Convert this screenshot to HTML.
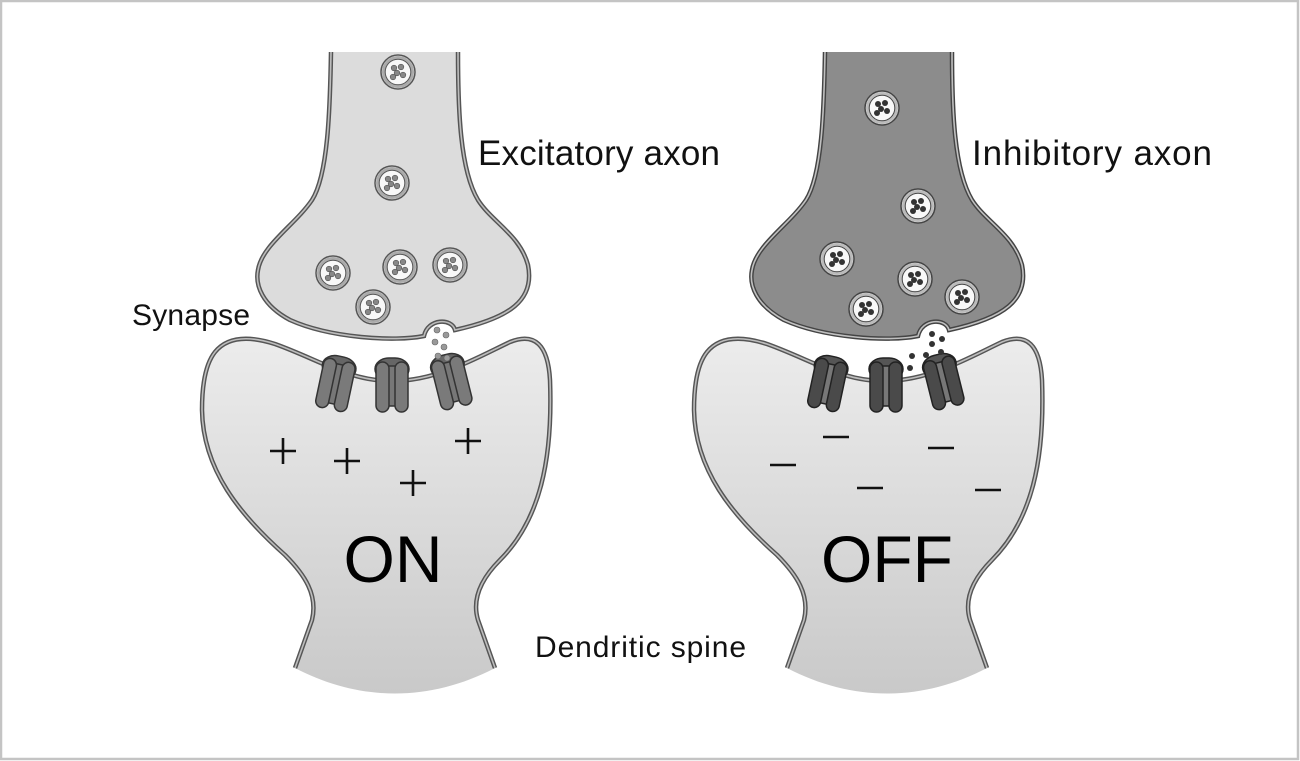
<!DOCTYPE html>
<html><head><meta charset="utf-8"><style>
html,body{margin:0;padding:0;background:#fff}
svg{display:block}
text{font-family:"Liberation Sans",sans-serif}
</style></head><body>
<svg width="1300" height="761" viewBox="0 0 1300 761" xmlns="http://www.w3.org/2000/svg">
<defs>
<linearGradient id="sp" x1="0" y1="0" x2="0" y2="1">
<stop offset="0" stop-color="#ececec"/><stop offset="1" stop-color="#c9c9c9"/>
</linearGradient>
<g id="rcp">
<rect x="-17" y="-26" width="34" height="22" rx="14" fill="#666" stroke="#333" stroke-width="1.5"/>
<rect x="-4" y="-18" width="8" height="40" fill="#777" stroke="#333" stroke-width="1.5"/>
<rect x="-16" y="-22" width="13" height="50" rx="6.5" fill="#7a7a7a" stroke="#333" stroke-width="1.5"/>
<rect x="3" y="-22" width="13" height="50" rx="6.5" fill="#7a7a7a" stroke="#333" stroke-width="1.5"/>
</g>
<g id="rcpd">
<rect x="-17" y="-26" width="34" height="22" rx="14" fill="#555" stroke="#222" stroke-width="1.5"/>
<rect x="-4" y="-18" width="8" height="40" fill="#777" stroke="#222" stroke-width="1.5"/>
<rect x="-16" y="-22" width="13" height="50" rx="6.5" fill="#4a4a4a" stroke="#222" stroke-width="1.5"/>
<rect x="3" y="-22" width="13" height="50" rx="6.5" fill="#4a4a4a" stroke="#222" stroke-width="1.5"/>
</g>
<g id="ves">
<circle r="17" fill="#f8f8f8" stroke="#555" stroke-width="1.5"/>
<circle r="14.5" fill="none" stroke="#aaa" stroke-width="3"/>
<circle r="12.8" fill="none" stroke="#555" stroke-width="1"/>
<circle cx="-4" cy="-4" r="2.8" fill="#888" stroke="#555" stroke-width=".6"/>
<circle cx="3" cy="-5" r="2.8" fill="#888" stroke="#555" stroke-width=".6"/>
<circle cx="-1" cy="1" r="2.8" fill="#888" stroke="#555" stroke-width=".6"/>
<circle cx="5" cy="3" r="2.8" fill="#888" stroke="#555" stroke-width=".6"/>
<circle cx="-5" cy="5" r="2.8" fill="#888" stroke="#555" stroke-width=".6"/>
</g>
<g id="vesd">
<circle r="17" fill="#f8f8f8" stroke="#444" stroke-width="1.5"/>
<circle r="14.5" fill="none" stroke="#bbb" stroke-width="3"/>
<circle r="12.8" fill="none" stroke="#444" stroke-width="1"/>
<circle cx="-4" cy="-4" r="3" fill="#333"/>
<circle cx="3" cy="-5" r="3" fill="#333"/>
<circle cx="-1" cy="1" r="3" fill="#333"/>
<circle cx="5" cy="3" r="3" fill="#333"/>
<circle cx="-5" cy="5" r="3" fill="#333"/>
</g>
<path id="spineS" d="M295,668 L312,620 C318,595 305,575 285,555 C240,515 203,470 202,410 C202,380 207,362 215,352 C228,336 250,336 275,344 C320,360 350,382 395,381 C440,380 480,356 510,342 C535,332 548,345 550,380 C553,460 540,520 500,560 C480,580 472,600 478,620 L495,668"/>
<path id="spineF" d="M295,668 L312,620 C318,595 305,575 285,555 C240,515 203,470 202,410 C202,380 207,362 215,352 C228,336 250,336 275,344 C320,360 350,382 395,381 C440,380 480,356 510,342 C535,332 548,345 550,380 C553,460 540,520 500,560 C480,580 472,600 478,620 L495,668 C430,702 360,702 295,668 Z"/>
<path id="axonF" d="M331,52 L458,52 C458,110 460,170 478,200 C492,222 520,235 528,265 C535,300 510,318 455,330 C452,318 428,318 424,336 C395,342 330,338 290,320 C262,305 255,285 258,270 C262,245 295,225 312,200 C328,175 330,110 331,52 Z"/>
<path id="axonS" d="M458,52 C458,110 460,170 478,200 C492,222 520,235 528,265 C535,300 510,318 455,330 C452,318 428,318 424,336 C395,342 330,338 290,320 C262,305 255,285 258,270 C262,245 295,225 312,200 C328,175 330,110 331,52"/>
</defs>
<rect x="1" y="1" width="1297" height="758" fill="#fff" stroke="#c4c4c4" stroke-width="2.5"/>

<!-- LEFT -->
<use href="#spineF" fill="url(#sp)"/>
<use href="#spineS" fill="none" stroke="#555" stroke-width="4.5"/>
<use href="#spineS" fill="none" stroke="#bdbdbd" stroke-width="1.6"/>
<use href="#axonF" fill="#dcdcdc"/>
<use href="#axonS" fill="none" stroke="#555" stroke-width="4.5"/>
<use href="#axonS" fill="none" stroke="#bdbdbd" stroke-width="1.6"/>
<g transform="translate(336,382) rotate(12)"><use href="#rcp"/></g>
<g transform="translate(392,384)"><use href="#rcp"/></g>
<g transform="translate(451,380) rotate(-14)"><use href="#rcp"/></g>
<g fill="#999" stroke="#666" stroke-width=".6">
<circle cx="437" cy="330" r="3"/><circle cx="446" cy="335" r="3"/><circle cx="435" cy="342" r="3"/><circle cx="444" cy="347" r="3"/><circle cx="438" cy="356" r="3"/><circle cx="447" cy="358" r="3"/>
</g>
<use href="#ves" x="398" y="72"/><use href="#ves" x="392" y="183"/><use href="#ves" x="333" y="273"/>
<use href="#ves" x="400" y="267"/><use href="#ves" x="450" y="265"/><use href="#ves" x="373" y="307"/>
<g stroke="#111" stroke-width="2.6">
<path d="M270,451h26M283,438v26"/><path d="M334,461h26M347,448v26"/><path d="M400,483h26M413,470v26"/><path d="M455,441h26M468,428v26"/>
</g>
<text x="393" y="582" font-size="66" text-anchor="middle" fill="#000">ON</text>

<!-- RIGHT -->
<g transform="translate(492,0)">
<use href="#spineF" fill="url(#sp)"/>
<use href="#spineS" fill="none" stroke="#555" stroke-width="4.5"/>
<use href="#spineS" fill="none" stroke="#bdbdbd" stroke-width="1.6"/>
</g>
<g transform="translate(494,0)">
<use href="#axonF" fill="#8c8c8c"/>
<use href="#axonS" fill="none" stroke="#444" stroke-width="4.5"/>
<use href="#axonS" fill="none" stroke="#c0c0c0" stroke-width="1.6"/>
</g>
<g transform="translate(828,382) rotate(12)"><use href="#rcpd"/></g>
<g transform="translate(886,384)"><use href="#rcpd"/></g>
<g transform="translate(943,380) rotate(-14)"><use href="#rcpd"/></g>
<g fill="#333">
<circle cx="932" cy="334" r="3"/><circle cx="942" cy="339" r="3"/><circle cx="932" cy="344" r="3"/><circle cx="926" cy="355" r="3"/><circle cx="941" cy="352" r="3"/><circle cx="912" cy="356" r="3"/><circle cx="910" cy="368" r="3"/>
</g>
<use href="#vesd" x="882" y="108"/><use href="#vesd" x="918" y="206"/><use href="#vesd" x="837" y="259"/>
<use href="#vesd" x="915" y="279"/><use href="#vesd" x="866" y="309"/><use href="#vesd" x="962" y="297"/>
<g stroke="#111" stroke-width="2.6">
<path d="M770,465h26"/><path d="M823,437h26"/><path d="M857,488h26"/><path d="M928,448h26"/><path d="M975,490h26"/>
</g>
<text x="887" y="582" font-size="66" text-anchor="middle" fill="#000">OFF</text>

<g fill="#111">
<text x="478" y="165" font-size="35" textLength="242">Excitatory axon</text>
<text x="972" y="165" font-size="35" textLength="240">Inhibitory axon</text>
<text x="132" y="325" font-size="30" textLength="118">Synapse</text>
<text x="535" y="657" font-size="30" textLength="211">Dendritic spine</text>
</g>
</svg>
</body></html>
